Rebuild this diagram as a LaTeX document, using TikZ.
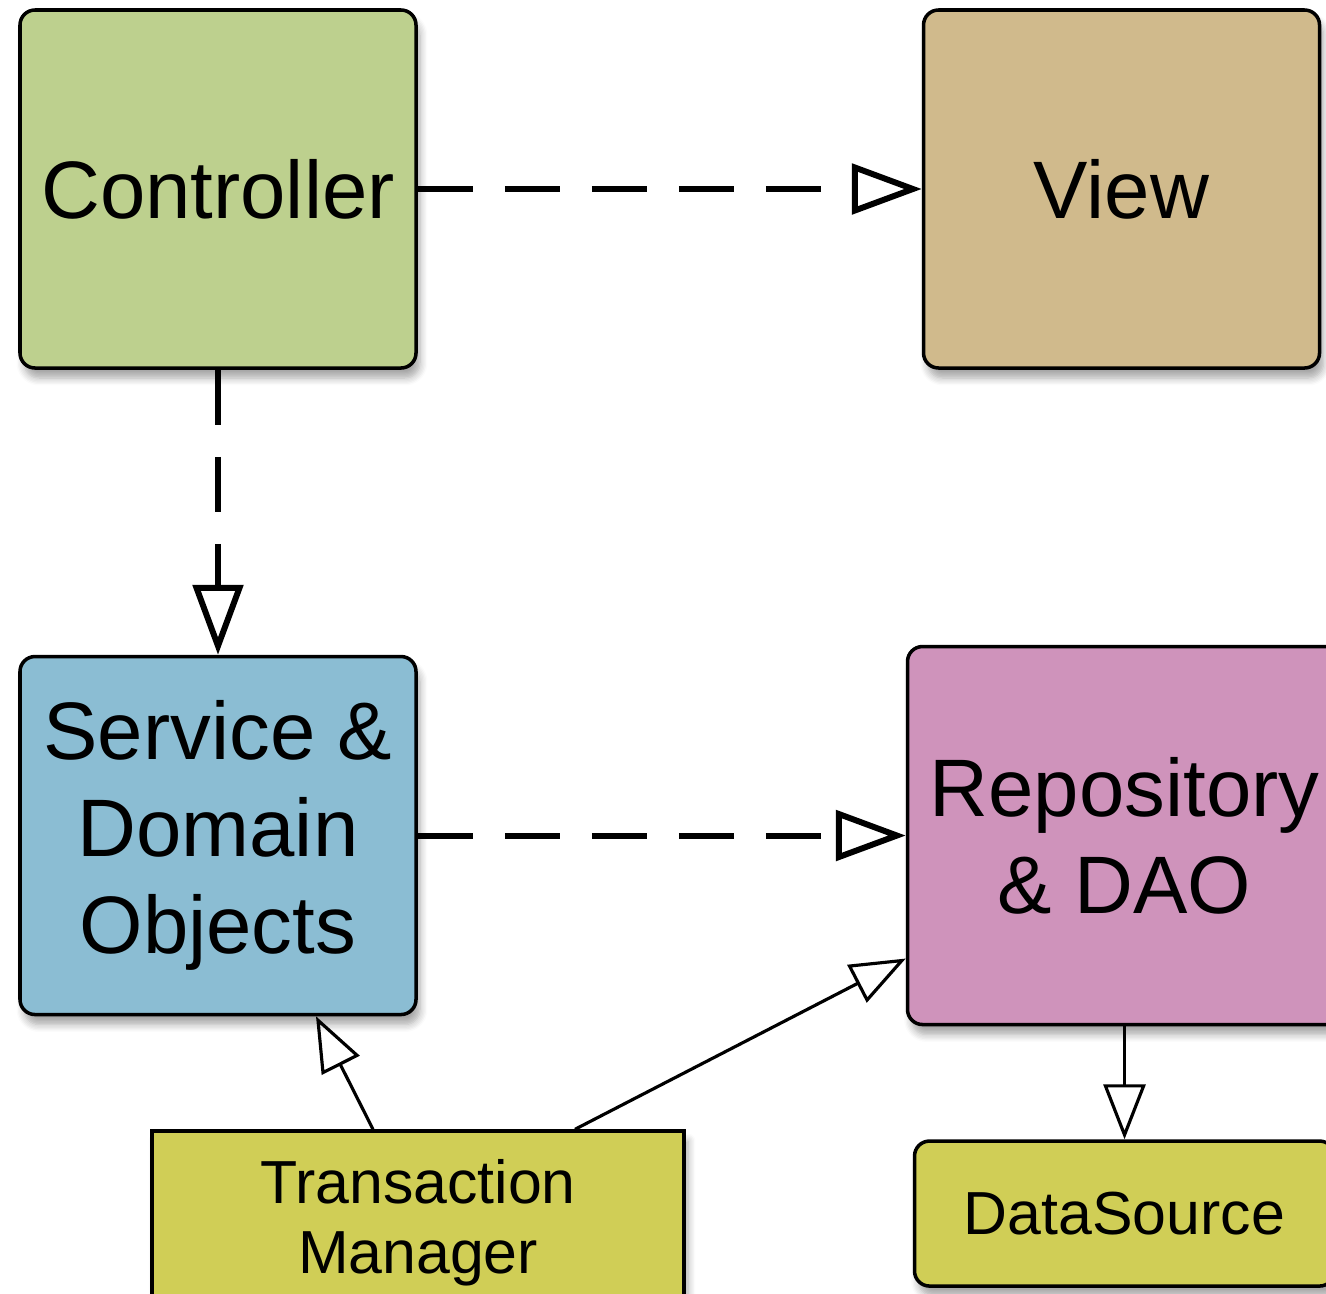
\documentclass[tikz,border=0pt]{standalone}
\usepackage{fontspec}
\setmainfont{Liberation Sans}
\usetikzlibrary{arrows.meta,positioning,shadows.blur}

\definecolor{ctrlgreen}{HTML}{BDD08E}
\definecolor{viewtan}{HTML}{D0BA8C}
\definecolor{svcblue}{HTML}{8BBDD3}
\definecolor{repopink}{HTML}{CF93BB}
\definecolor{tmyellow}{HTML}{D0CE56}

\begin{document}
\begin{tikzpicture} [
       box/.style={draw=black, line width=1pt, rounded corners=0.15cm,
               align=center, inner sep=0pt,
               blur shadow={shadow xshift=0.04cm, shadow yshift=-0.1cm,
               shadow blur steps=6, shadow opacity=35}},
       big/.style={box, minimum width=3.96cm, minimum height=3.58cm,
               font=\fontsize{23.2}{27.5}\selectfont},
       small/.style={box, font=\fontsize{17.3}{20}\selectfont},
       dep/.style={draw, line width=1.7pt, dash pattern=on 0.55cm off 0.32cm,
               -{Triangle[open, length=0.7cm, width=0.5cm, line width=1.7pt]}},
       uses/.style={draw, line width=0.9pt,
               -{Triangle[open, length=0.55cm, width=0.42cm]}},
       ]
       \useasboundingbox (0,0) rectangle (13.26,-12.93);
       \node (ctrl) [big, fill=ctrlgreen] at (2.18,-1.89) {Controller};
       \node (view) [big, fill=viewtan, right=5.04cm of ctrl] {View};
       \node (svc) [big, fill=svcblue, below=2.85cm of ctrl] {Service \&\\Domain\\Objects};
       \node (repo) [big, fill=repopink, minimum width=4.34cm, minimum height=3.78cm,
               right=4.88cm of svc] {Repository\\\& DAO};
       \node (tm) [small, fill=tmyellow, sharp corners, minimum width=5.32cm,
               minimum height=1.84cm, below=1.13cm of svc, xshift=2cm] {Transaction\\Manager};
       \node (ds) [small, fill=tmyellow, minimum width=4.2cm, minimum height=1.45cm,
               below=1.13cm of repo] {DataSource};
       \path[dep] (ctrl) -- (view);
       \path[dep] (ctrl) -- (svc);
       \path[dep] (svc.east) -- (svc.east -| repo.west);
       \path[uses] ([xshift=-0.45cm]tm.north) -- ([xshift=0.98cm]svc.south);
       \path[uses] ([xshift=1.57cm]tm.north) -- ([yshift=-1.23cm]repo.west);
       \path[uses] (repo) -- (ds);
\end{tikzpicture}
\end{document}
